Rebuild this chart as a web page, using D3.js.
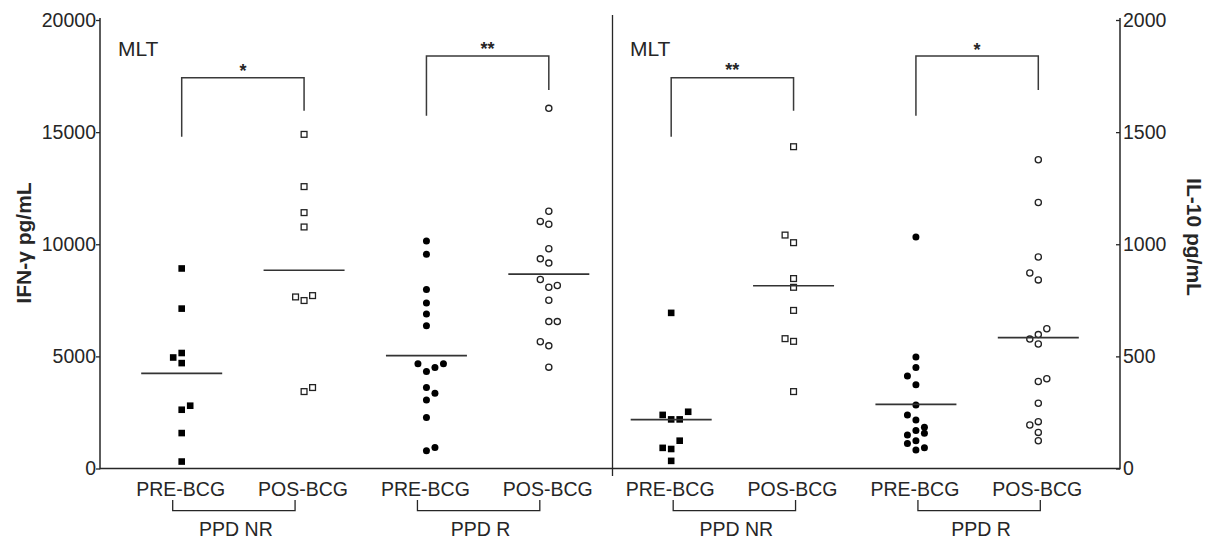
<!DOCTYPE html>
<html><head><meta charset="utf-8">
<script src="https://cdn.jsdelivr.net/npm/d3@7"></script>
<style>body{margin:0;background:#fff}svg{display:block}text{font-family:"Liberation Sans",Arial,sans-serif;fill:#262626}</style>
</head><body><svg id="c" width="1206" height="543"></svg>
<script>
// ---- data ----
const categories = ["IFN|NR|PRE","IFN|NR|POS","IFN|R|PRE","IFN|R|POS","IL10|NR|PRE","IL10|NR|POS","IL10|R|PRE","IL10|R|POS"];
const timeLabels = ["PRE-BCG","POS-BCG","PRE-BCG","POS-BCG","PRE-BCG","POS-BCG","PRE-BCG","POS-BCG"];
const groupLabels = ["PPD NR","PPD R","PPD NR","PPD R"];
const sigLabels = ["*","**","**","*"];
const panelLabels = ["MLT","MLT"];
const ifnTicks = [0,5000,10000,15000,20000];
const il10Ticks = [0,500,1000,1500,2000];
const ifnDomain = [0,20000];
const il10Domain = [0,2000];

const ifnNRpre  = [8920,7130,5150,4950,4700,2800,2620,1580,310];
const ifnNRpreSlot = [0,0,0,-1,0,1,0,0,0];
const ifnNRpos  = [14900,12570,11410,10770,7650,7490,7710,3430,3610];
const ifnNRposSlot = [0,0,0,0,-1,0,1,0,1];
const ifnRpre   = [10140,9550,7980,7380,6890,6370,4670,4330,4500,4670,3610,3360,3060,2270,790,940];
const ifnRpreSlot = [0,0,0,0,0,0,-1,0,1,2,0,1,0,0,0,1];
const ifnRpos   = [16060,11470,11020,10890,9800,9350,9160,8430,8080,8160,7500,6550,6550,5650,5470,4520];
const ifnRposSlot = [0,0,-1,0,0,-1,0,-1,0,1,0,0,1,-1,0,0];

const il10NRpre = [694,253,239,219,219,124,92,87,34];
const il10NRpreSlot = [0,2,-1,0,1,1,-1,0,0];
const il10NRpos = [1435,1041,1007,847,808,705,579,567,343];
const il10NRposSlot = [0,-1,0,0,0,0,-1,0,0];
const il10Rpre  = [1032,497,450,413,373,283,239,216,184,169,157,149,124,112,82,92];
const il10RpreSlot = [0,0,0,-1,0,0,-1,0,1,0,1,-1,0,-1,0,1];
const il10Rpos  = [1377,1186,943,872,841,623,597,577,555,388,400,291,209,194,161,124];
const il10RposSlot = [0,0,0,-1,0,1,0,-1,0,0,1,0,0,-1,0,0];

const seriesValues = [ifnNRpre,ifnNRpos,ifnRpre,ifnRpos,il10NRpre,il10NRpos,il10Rpre,il10Rpos];
const seriesSlots = [ifnNRpreSlot,ifnNRposSlot,ifnRpreSlot,ifnRposSlot,il10NRpreSlot,il10NRposSlot,il10RpreSlot,il10RposSlot];

// ---- layout ----
const svg = d3.select("#c");
const L = 100, R = 1120, T = 20, B = 468.5, MID = 612.5;
const x = d3.scalePoint().domain(categories).range([181.7, 1038.3]);
const yL = d3.scaleLinear().domain(ifnDomain).range([B, T]);
const yR = d3.scaleLinear().domain(il10Domain).range([B, T]);
const slotW = 8.5;
const ink = "#262626";

// axes
const axL = svg.append("g").attr("transform",`translate(${L},0)`)
  .call(d3.axisLeft(yL).tickValues(ifnTicks).tickSizeInner(4).tickSizeOuter(0).tickPadding(0).tickFormat(d3.format("d")));
const axR = svg.append("g").attr("transform",`translate(${R},0)`)
  .call(d3.axisRight(yR).tickValues(il10Ticks).tickSizeInner(-4).tickSizeOuter(0).tickPadding(3).tickFormat(d3.format("d")));
[axL,axR].forEach(a=>{
  a.select(".domain").remove();
  a.selectAll("line").attr("stroke",ink).attr("stroke-width",1.3);
  a.selectAll("text").attr("font-size","19.5px").attr("font-family","Liberation Sans, Arial, sans-serif").attr("fill","#2e2e2e");
});
// axis frame lines
svg.append("line").attr("x1",L).attr("x2",L).attr("y1",T-2).attr("y2",B+0.7).attr("stroke",ink).attr("stroke-width",1.5);
svg.append("line").attr("x1",R).attr("x2",R).attr("y1",T-2).attr("y2",B+0.7).attr("stroke",ink).attr("stroke-width",1.5);
svg.append("line").attr("x1",L).attr("x2",R).attr("y1",B).attr("y2",B).attr("stroke",ink).attr("stroke-width",1.5);
svg.append("line").attr("x1",MID).attr("x2",MID).attr("y1",15).attr("y2",476).attr("stroke",ink).attr("stroke-width",1.3);

// axis titles
svg.append("text").attr("transform","translate(31,243) rotate(-90)").attr("text-anchor","middle")
  .attr("font-size","21px").attr("font-weight","bold").text("IFN-γ pg/mL");
svg.append("text").attr("transform","translate(1187,237) rotate(90)").attr("text-anchor","middle")
  .attr("font-size","21px").attr("font-weight","bold").text("IL-10 pg/mL");

// panel labels
svg.append("text").attr("x",118).attr("y",56).attr("font-size","21px").text(panelLabels[0]);
svg.append("text").attr("x",630).attr("y",56).attr("font-size","21px").text(panelLabels[1]);

// category labels
svg.selectAll("text.cat").data(categories).enter().append("text").attr("class","cat")
  .attr("x",d=>x(d)-1).attr("y",496).attr("text-anchor","middle").attr("font-size","19.5px")
  .text((d,i)=>timeLabels[i]);

// group brackets below
const grpOffset = [-9,-9,2,2];
for (let g=0; g<4; g++) {
  const x1 = x(categories[2*g]) + grpOffset[g], x2 = x(categories[2*g+1]) + grpOffset[g];
  svg.append("path").attr("d",`M${x1},500V510.7H${x2}V500`).attr("fill","none").attr("stroke",ink).attr("stroke-width",1.3);
  svg.append("text").attr("x",(x1+x2)/2+2).attr("y",536).attr("text-anchor","middle").attr("font-size","19.5px").text(groupLabels[g]);
}

// significance brackets
const sigGeom = [[77.7,136.7,110.7,77],[56,115.7,90,54.5],[77.7,136.7,110.7,76],[56,115.7,90,56]];
for (let g=0; g<4; g++) {
  const [h, lb, rb, ty] = sigGeom[g];
  const x1 = x(categories[2*g]), x2 = x(categories[2*g+1]);
  svg.append("path").attr("d",`M${x1},${lb}V${h}H${x2}V${rb}`).attr("fill","none").attr("stroke","#3a3a3a").attr("stroke-width",1.5);
  svg.append("text").attr("x",(x1+x2)/2).attr("y",ty).attr("text-anchor","middle").attr("font-size","18px").attr("font-weight","bold").attr("fill","#333").text(sigLabels[g]);
}

// points + mean lines
categories.forEach((cat,i)=>{
  const y = i < 4 ? yL : yR;
  const isR = cat.split("|")[1] === "R";
  const filled = cat.split("|")[2] === "PRE";
  const vals = seriesValues[i], slots = seriesSlots[i];
  const g = svg.append("g");
  const pts = vals.map((v,j)=>({v, s:slots[j]}));
  if (isR) {
    g.selectAll("circle").data(pts).enter().append("circle")
      .attr("cx",d=>x(cat)+d.s*slotW).attr("cy",d=>y(d.v)).attr("r",filled?3.5:3.1)
      .attr("fill",filled?"#000":"#fff").attr("stroke",filled?"none":"#222").attr("stroke-width",1.3);
  } else {
    const s = filled?6.6:5.8;
    g.selectAll("rect").data(pts).enter().append("rect")
      .attr("x",d=>x(cat)+d.s*slotW-s/2).attr("y",d=>y(d.v)-s/2).attr("width",s).attr("height",s)
      .attr("fill",filled?"#000":"#fff").attr("stroke",filled?"none":"#222").attr("stroke-width",1.3);
  }
  const m = d3.mean(vals);
  svg.append("line").attr("x1",x(cat)-40.5).attr("x2",x(cat)+40.5).attr("y1",y(m)).attr("y2",y(m))
    .attr("stroke","#333").attr("stroke-width",1.6);
});
</script></body></html>
